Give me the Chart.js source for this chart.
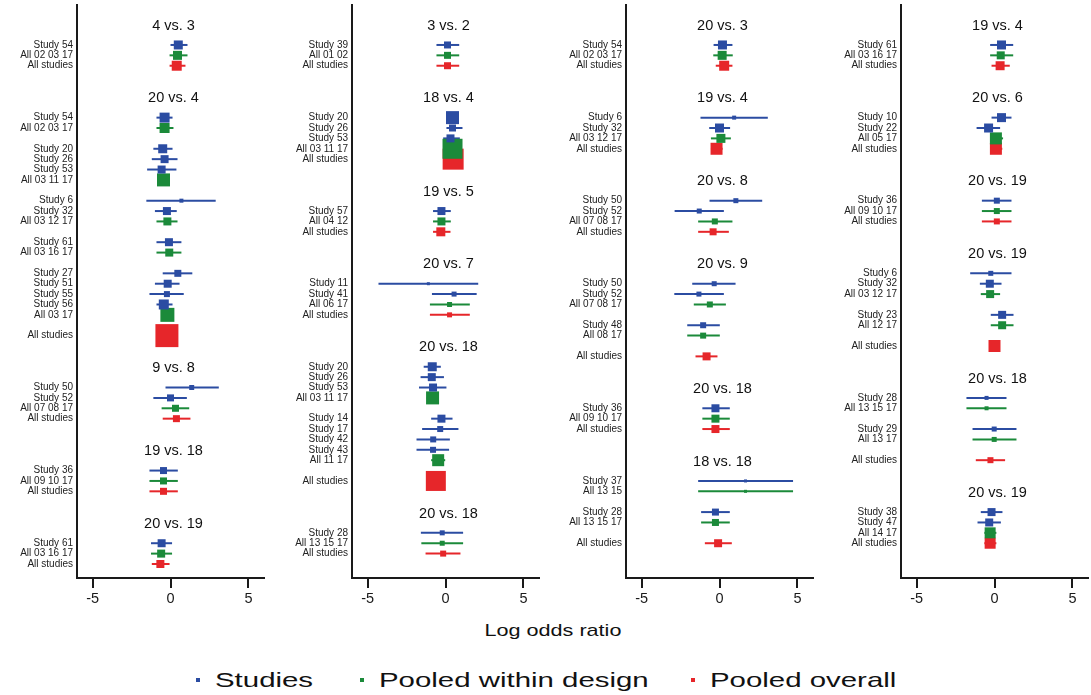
<!DOCTYPE html>
<html>
<head>
<meta charset="utf-8">
<script src="https://cdn.jsdelivr.net/npm/chart.js@4"></script>
<style>
    body { margin: 0; background: #fff; }
    #wrap { position: relative; width: 1091px; height: 695px; overflow: hidden; background: #fff;
            font-family: "Liberation Sans", Arial, sans-serif; color: #111; }
    .panel { position: absolute; top: 0; }
    #xtitle { position: absolute; left: 553px; top: 631px; font-size: 17px; white-space: nowrap;
              transform: translate(-50%, -50%) scaleX(1.27); }
    .leg-box { position: absolute; width: 4px; height: 4px; top: 678px; }
    .leg-text { position: absolute; top: 680px; font-size: 21px; white-space: nowrap;
                transform: translateY(-50%) scaleX(1.4); transform-origin: left center; }
</style>
</head>
<body>
<div id="wrap">
    <canvas id="p1" class="panel" width="265" height="620" style="left:0px"></canvas>
    <canvas id="p2" class="panel" width="265" height="620" style="left:275px"></canvas>
    <canvas id="p3" class="panel" width="265" height="620" style="left:549px"></canvas>
    <canvas id="p4" class="panel" width="265" height="620" style="left:824px"></canvas>
    <div id="xtitle">Log odds ratio</div>
    <div id="legend"></div>
</div>
<script>
// common
const xTicks = [-5, 0, 5];
const seriesNames = ['Studies', 'Pooled within design', 'Pooled overall'];
const seriesKinds = ['s', 'd', 'o'];
const seriesColors = ['#2b4ca2', '#1b8a3a', '#e6262a'];

// panel 1
const titles1 = ['4 vs. 3', '20 vs. 4', '9 vs. 8', '19 vs. 18', '20 vs. 19'];
const titleRows1 = [-2, 5, 31, 39, 46];
const labels1 = ['Study 54', 'All 02 03 17', 'All studies',
    'Study 54', 'All 02 03 17', 'Study 20', 'Study 26', 'Study 53', 'All 03 11 17',
    'Study 6', 'Study 32', 'All 03 12 17', 'Study 61', 'All 03 16 17',
    'Study 27', 'Study 51', 'Study 55', 'Study 56', 'All 03 17', 'All studies',
    'Study 50', 'Study 52', 'All 07 08 17', 'All studies',
    'Study 36', 'All 09 10 17', 'All studies',
    'Study 61', 'All 03 16 17', 'All studies'];
const rows1 = [0, 1, 2, 7, 8, 10, 11, 12, 13, 15, 16, 17, 19, 20, 22, 23, 24, 25, 26, 28,
    33, 34, 35, 36, 41, 42, 43, 48, 49, 50];
const kind1 = ['s', 'd', 'o', 's', 'd', 's', 's', 's', 'd', 's', 's', 'd', 's', 'd',
    's', 's', 's', 's', 'd', 'o', 's', 's', 'd', 'o', 's', 'd', 'o', 's', 'd', 'o'];
const est1 = [0.50, 0.45, 0.40, -0.38, -0.38, -0.50, -0.38, -0.57, -0.45, 0.70, -0.23, -0.20,
    -0.10, -0.08, 0.47, -0.18, -0.23, -0.43, -0.20, -0.23, 1.36, 0.00, 0.32, 0.38,
    -0.45, -0.45, -0.45, -0.57, -0.60, -0.65];
const lo1 = [0.00, -0.06, -0.06, -0.90, -0.90, -1.10, -1.20, -1.50, -0.80, -1.55, -1.00, -0.90,
    -0.90, -0.90, -0.50, -1.00, -1.35, -0.90, -0.55, -0.60, -0.32, -1.10, -0.57, -0.50,
    -1.35, -1.35, -1.35, -1.25, -1.25, -1.20];
const hi1 = [1.09, 1.09, 0.96, 0.13, 0.19, 0.13, 0.45, 0.38, -0.10, 2.90, 0.40, 0.45,
    0.70, 0.70, 1.40, 0.58, 0.85, 0.13, 0.15, 0.15, 3.10, 1.05, 1.20, 1.28,
    0.47, 0.47, 0.47, 0.10, 0.10, -0.06];
const wt1 = [9, 9, 10, 10, 10, 9, 8, 8, 13, 4, 8, 8, 8, 8, 7, 8, 6, 10, 14, 23,
    5, 7, 7, 7, 7, 7, 7, 8, 8, 8];

// panel 2
const titles2 = ['3 vs. 2', '18 vs. 4', '19 vs. 5', '20 vs. 7', '20 vs. 18', '20 vs. 18'];
const titleRows2 = [-2, 5, 14, 21, 29, 45];
const labels2 = ['Study 39', 'All 01 02', 'All studies',
    'Study 20', 'Study 26', 'Study 53', 'All 03 11 17', 'All studies',
    'Study 57', 'All 04 12', 'All studies',
    'Study 11', 'Study 41', 'All 06 17', 'All studies',
    'Study 20', 'Study 26', 'Study 53', 'All 03 11 17',
    'Study 14', 'Study 17', 'Study 42', 'Study 43', 'All 11 17', 'All studies',
    'Study 28', 'All 13 15 17', 'All studies'];
const rows2 = [0, 1, 2, 7, 8, 9, 10, 11, 16, 17, 18, 23, 24, 25, 26,
    31, 32, 33, 34, 36, 37, 38, 39, 40, 42, 47, 48, 49];
const kind2 = ['s', 'd', 'o', 's', 's', 's', 'd', 'o', 's', 'd', 'o', 's', 's', 'd', 'o',
    's', 's', 's', 'd', 's', 's', 's', 's', 'd', 'o', 's', 'd', 'o'];
const est2 = [0.13, 0.13, 0.13, 0.45, 0.45, 0.32, 0.45, 0.49, -0.26, -0.26, -0.30,
    -1.10, 0.55, 0.26, 0.26, -0.85, -0.88, -0.80, -0.83, -0.26, -0.34, -0.79, -0.80, -0.47, -0.62,
    -0.21, -0.21, -0.15];
const lo2 = [-0.58, -0.58, -0.58, 0.10, 0.06, -0.15, 0.10, 0.15, -0.80, -0.80, -0.80,
    -4.30, -0.87, -1.00, -1.00, -1.40, -1.60, -1.70, -1.20, -0.92, -1.50, -1.86, -1.86, -0.92, -1.00,
    -1.58, -1.55, -1.28];
const hi2 = [0.88, 0.88, 0.88, 0.80, 1.09, 0.92, 0.80, 0.85, 0.34, 0.34, 0.32,
    2.10, 2.00, 1.56, 1.56, -0.30, -0.10, 0.06, -0.45, 0.45, 0.83, 0.28, 0.23, -0.02, -0.25,
    1.13, 1.13, 0.96];
const wt2 = [7, 7, 7, 13, 7, 8, 20, 21, 8, 8, 9, 3, 5, 5, 5,
    9, 8, 8, 13, 8, 6, 6, 6, 12, 20, 5, 5, 6];

// panel 3
const titles3 = ['20 vs. 3', '19 vs. 4', '20 vs. 8', '20 vs. 9', '20 vs. 18', '18 vs. 18'];
const titleRows3 = [-2, 5, 13, 21, 33, 40];
const labels3 = ['Study 54', 'All 02 03 17', 'All studies',
    'Study 6', 'Study 32', 'All 03 12 17', 'All studies',
    'Study 50', 'Study 52', 'All 07 08 17', 'All studies',
    'Study 50', 'Study 52', 'All 07 08 17', 'Study 48', 'All 08 17', 'All studies',
    'Study 36', 'All 09 10 17', 'All studies',
    'Study 37', 'All 13 15', 'Study 28', 'All 13 15 17', 'All studies'];
const rows3 = [0, 1, 2, 7, 8, 9, 10, 15, 16, 17, 18, 23, 24, 25, 27, 28, 30,
    35, 36, 37, 42, 43, 45, 46, 48];
const kind3 = ['s', 'd', 'o', 's', 's', 'd', 'o', 's', 's', 'd', 'o',
    's', 's', 'd', 's', 'd', 'o', 's', 'd', 'o', 's', 'd', 's', 'd', 'o'];
const est3 = [0.19, 0.17, 0.30, 0.94, 0.00, 0.09, -0.19, 1.05, -1.30, -0.30, -0.41,
    -0.34, -1.32, -0.62, -1.05, -1.05, -0.83, -0.26, -0.26, -0.26, 1.67, 1.67, -0.26, -0.26, -0.09];
const lo3 = [-0.38, -0.40, -0.24, -1.22, -0.66, -0.55, -0.55, -0.64, -2.88, -1.37, -1.37,
    -1.75, -2.90, -1.65, -2.07, -2.07, -1.54, -1.10, -1.10, -1.10, -1.37, -1.37, -1.18, -1.18, -0.94];
const hi3 = [0.83, 0.85, 0.83, 3.10, 0.68, 0.73, 0.20, 2.74, 0.28, 0.83, 0.60,
    1.03, 0.28, 0.41, 0.02, 0.02, -0.13, 0.66, 0.66, 0.66, 4.72, 4.72, 0.66, 0.66, 0.79];
const wt3 = [9, 9, 10, 4, 9, 9, 12, 5, 5, 6, 7, 5, 5, 6, 6, 6, 8, 8, 8, 8, 3, 3, 7, 7, 8];

// panel 4
const titles4 = ['19 vs. 4', '20 vs. 6', '20 vs. 19', '20 vs. 19', '20 vs. 18', '20 vs. 19'];
const titleRows4 = [-2, 5, 13, 20, 32, 43];
const labels4 = ['Study 61', 'All 03 16 17', 'All studies',
    'Study 10', 'Study 22', 'All 05 17', 'All studies',
    'Study 36', 'All 09 10 17', 'All studies',
    'Study 6', 'Study 32', 'All 03 12 17', 'Study 23', 'All 12 17', 'All studies',
    'Study 28', 'All 13 15 17', 'Study 29', 'All 13 17', 'All studies',
    'Study 38', 'Study 47', 'All 14 17', 'All studies'];
const rows4 = [0, 1, 2, 7, 8, 9, 10, 15, 16, 17, 22, 23, 24, 26, 27, 29,
    34, 35, 37, 38, 40, 45, 46, 47, 48];
const kind4 = ['s', 'd', 'o', 's', 's', 'd', 'o', 's', 'd', 'o',
    's', 's', 'd', 's', 'd', 'o', 's', 'd', 's', 'd', 'o', 's', 's', 'd', 'o'];
const est4 = [0.45, 0.40, 0.36, 0.45, -0.38, 0.09, 0.09, 0.15, 0.15, 0.15,
    -0.24, -0.30, -0.28, 0.49, 0.49, 0.00, -0.51, -0.51, -0.02, -0.02, -0.26, -0.19, -0.34, -0.28, -0.28];
const lo4 = [-0.28, -0.28, -0.19, -0.19, -1.15, -0.28, -0.28, -0.81, -0.81, -0.81,
    -1.56, -0.94, -0.88, -0.24, -0.24, -0.30, -1.80, -1.80, -1.41, -1.41, -1.20, -0.88, -1.09, -0.65, -0.65];
const hi4 = [1.20, 1.20, 0.98, 1.09, 0.36, 0.55, 0.50, 1.09, 1.09, 1.09,
    1.09, 0.45, 0.36, 1.22, 1.22, 0.30, 0.77, 0.77, 1.41, 1.41, 0.68, 0.51, 0.41, 0.12, 0.12];
const wt4 = [9, 8, 9, 9, 9, 12, 12, 6, 6, 6, 5, 8, 8, 8, 8, 12, 4, 4, 5, 5, 6, 8, 8, 11, 11];

const panels = [
    {id: 'p1', titles: titles1, titleRows: titleRows1, labels: labels1, rows: rows1, kind: kind1, est: est1, lo: lo1, hi: hi1, wt: wt1},
    {id: 'p2', titles: titles2, titleRows: titleRows2, labels: labels2, rows: rows2, kind: kind2, est: est2, lo: lo2, hi: hi2, wt: wt2},
    {id: 'p3', titles: titles3, titleRows: titleRows3, labels: labels3, rows: rows3, kind: kind3, est: est3, lo: lo3, hi: hi3, wt: wt3},
    {id: 'p4', titles: titles4, titleRows: titleRows4, labels: labels4, rows: rows4, kind: kind4, est: est4, lo: lo4, hi: hi4, wt: wt4}
];

Chart.defaults.font.family = '"Liberation Sans", Arial, sans-serif';
const axisColor = '#1a1a1a';

// keep every panel's plot box the same size, whatever its labels
function noPadding(s) {
    s.paddingTop = 0;
    s.paddingBottom = 0;
    s.paddingLeft = 0;
    s.paddingRight = 0;
}

function makePanel(p) {
    const datasets = seriesKinds.map((k, s) => ({
        label: seriesNames[s],
        data: p.rows.map((r, i) => ({x: p.est[i], y: r, w: p.wt[i], k: p.kind[i]}))
                    .filter(d => d.k === k),
        backgroundColor: seriesColors[s],
        borderWidth: 0,
        pointStyle: 'rect',
        pointRadius: ctx => ctx.raw ? ctx.raw.w / Math.SQRT2 : 0,
        pointHoverRadius: ctx => ctx.raw ? ctx.raw.w / Math.SQRT2 : 0
    }));

    // confidence interval lines, drawn under the boxes
    const ciLines = {
        id: 'ciLines',
        beforeDatasetsDraw(chart) {
            const {ctx, scales: {x, y}} = chart;
            ctx.save();
            ctx.lineWidth = 2;
            p.rows.forEach((r, i) => {
                const py = y.getPixelForValue(r);
                ctx.strokeStyle = seriesColors[seriesKinds.indexOf(p.kind[i])];
                ctx.beginPath();
                ctx.moveTo(x.getPixelForValue(p.lo[i]), py);
                ctx.lineTo(x.getPixelForValue(p.hi[i]), py);
                ctx.stroke();
            });
            ctx.restore();
        }
    };

    // comparison headings
    const headings = {
        id: 'headings',
        afterDraw(chart) {
            const {ctx, chartArea, scales: {y}} = chart;
            const cx = (chartArea.left + chartArea.right) / 2 + 3;
            ctx.save();
            ctx.fillStyle = '#111';
            ctx.font = '14.5px "Liberation Sans", Arial, sans-serif';
            ctx.textAlign = 'center';
            ctx.textBaseline = 'middle';
            p.titles.forEach((t, i) => {
                ctx.fillText(t, cx, y.getPixelForValue(p.titleRows[i]) + 1.5);
            });
            ctx.restore();
        }
    };

    new Chart(document.getElementById(p.id), {
        type: 'scatter',
        data: { datasets: datasets },
        options: {
            responsive: false,
            devicePixelRatio: 1,
            animation: false,
            events: [],
            layout: { autoPadding: false, padding: { top: 5, right: 1, left: 0, bottom: 0 } },
            plugins: { legend: { display: false }, tooltip: { enabled: false } },
            scales: {
                x: {
                    type: 'linear', min: -6, max: 6,
                    afterBuildTicks: s => { s.ticks = xTicks.map(v => ({value: v})); },
                    afterFit: s => { s.height = 42; noPadding(s); },
                    ticks: { padding: 2, color: '#1a1a1a', font: { size: 14.5 }, callback: v => String(v) },
                    grid: { display: true, drawOnChartArea: false, drawTicks: true, tickLength: 10,
                            tickWidth: 2, tickColor: axisColor, lineWidth: 2, color: axisColor },
                    border: { display: true, color: axisColor, width: 2 }
                },
                y: {
                    type: 'linear', reverse: true, min: -3.85, max: 51.35,
                    afterBuildTicks: s => { s.ticks = p.rows.map(v => ({value: v})); },
                    afterFit: s => { s.width = 77; noPadding(s); },
                    ticks: { autoSkip: false, padding: 4, color: '#222', font: { size: 10 },
                             callback: v => p.labels[p.rows.indexOf(v)] },
                    grid: { display: false, drawTicks: false },
                    border: { display: true, color: axisColor, width: 2 }
                }
            }
        },
        plugins: [ciLines, headings]
    });
}

panels.forEach(makePanel);

// legend under the panels
const legend = document.getElementById('legend');
const legendLeft = [196, 360, 691];
seriesNames.forEach((name, i) => {
    const box = document.createElement('div');
    box.className = 'leg-box';
    box.style.left = legendLeft[i] + 'px';
    box.style.background = seriesColors[i];
    legend.appendChild(box);
    const txt = document.createElement('div');
    txt.className = 'leg-text';
    txt.style.left = (legendLeft[i] + 19) + 'px';
    txt.textContent = name;
    legend.appendChild(txt);
});
</script>
</body>
</html>
